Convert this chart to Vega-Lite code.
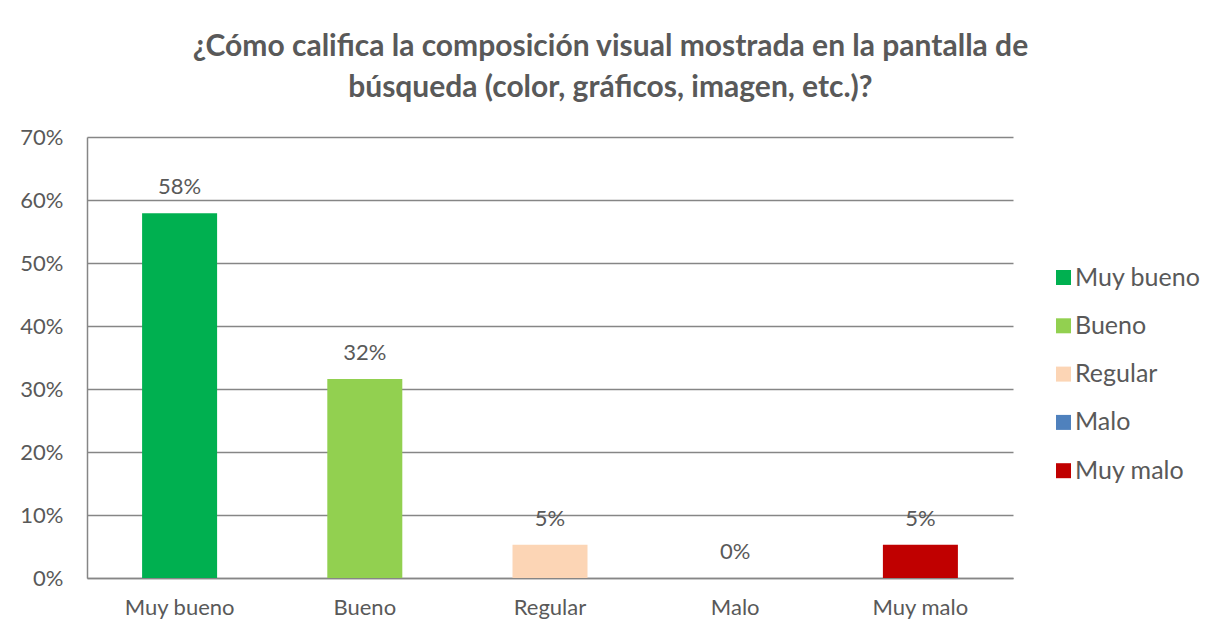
{
  "$schema": "https://vega.github.io/schema/vega-lite/v6.json",
  "autosize": "none",
  "width": 926,
  "height": 441,
  "padding": {"left": 87, "top": 137, "right": 212, "bottom": 58},
  "background": "#ffffff",
  "config": {
    "font": "Lato",
    "view": {"stroke": null},
    "axis": {"labelColor": "#595959", "labelFont": "Lato", "labelFontSize": 22, "gridColor": "#868686", "gridWidth": 1.3, "domainColor": "#868686", "domainWidth": 1.5, "ticks": false, "labelOverlap": false}
  },
  "title": {
    "text": ["¿Cómo califica la composición visual mostrada en la pantalla de", "búsqueda (color, gráficos, imagen, etc.)?"],
    "font": "Lato",
    "fontSize": 30,
    "fontWeight": "bold",
    "color": "#595959",
    "anchor": "middle",
    "frame": "bounds",
    "lineHeight": 41,
    "offset": 23
  },
  "data": {
    "values": [
      {"categoria": "Muy bueno", "porcentaje": 0.5789},
      {"categoria": "Bueno", "porcentaje": 0.3158},
      {"categoria": "Regular", "porcentaje": 0.0526},
      {"categoria": "Malo", "porcentaje": 0},
      {"categoria": "Muy malo", "porcentaje": 0.0526}
    ]
  },
  "encoding": {
    "x": {
      "field": "categoria",
      "type": "nominal",
      "sort": ["Muy bueno", "Bueno", "Regular", "Malo", "Muy malo"],
      "scale": {"paddingInner": 0.595, "paddingOuter": 0.2975},
      "axis": {"title": null, "labelAngle": 0, "labelPadding": 19, "grid": false, "domain": true}
    },
    "y": {
      "field": "porcentaje",
      "type": "quantitative",
      "scale": {"domain": [0, 0.7], "nice": false},
      "axis": {"title": null, "format": ".0%", "values": [0, 0.1, 0.2, 0.3, 0.4, 0.5, 0.6, 0.7], "labelPadding": 24, "grid": true, "domain": true}
    }
  },
  "layer": [
    {
      "mark": {"type": "bar"},
      "encoding": {
        "color": {
          "field": "categoria",
          "type": "nominal",
          "sort": ["Muy bueno", "Bueno", "Regular", "Malo", "Muy malo"],
          "scale": {"domain": ["Muy bueno", "Bueno", "Regular", "Malo", "Muy malo"], "range": ["#00B050", "#92D050", "#FCD5B5", "#4F81BD", "#C00000"]},
          "legend": {
            "title": null,
            "orient": "none",
            "legendX": 964,
            "legendY": 128,
            "symbolType": "square",
            "symbolSize": 225,
            "symbolStrokeWidth": 0,
            "labelFontSize": 25,
            "labelColor": "#595959",
            "labelFont": "Lato",
            "labelOffset": -1,
            "rowPadding": 22.3
          }
        }
      }
    },
    {
      "mark": {"type": "text", "baseline": "bottom", "dy": -14, "fontSize": 22, "color": "#595959", "font": "Lato"},
      "encoding": {
        "text": {"field": "porcentaje", "type": "quantitative", "format": ".0%"}
      }
    }
  ]
}
